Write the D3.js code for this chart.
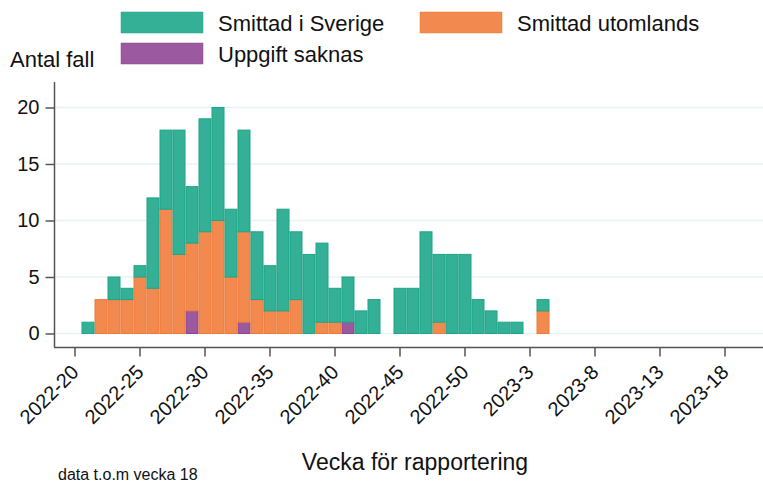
<!DOCTYPE html>
<html>
<head>
<meta charset="utf-8">
<script src="https://cdn.jsdelivr.net/npm/d3@7"></script>
<style>
  body { margin: 0; background: #fff; }
  svg { font-family: "Liberation Sans", Arial, sans-serif; }
</style>
</head>
<body>
<div id="chart"></div>
<script>
// Weeks (rapporteringsvecka)
const weeks = [
  "2022-20","2022-21","2022-22","2022-23","2022-24","2022-25","2022-26","2022-27","2022-28","2022-29",
  "2022-30","2022-31","2022-32","2022-33","2022-34","2022-35","2022-36","2022-37","2022-38","2022-39",
  "2022-40","2022-41","2022-42","2022-43","2022-44","2022-45","2022-46","2022-47","2022-48","2022-49",
  "2022-50","2022-51","2022-52","2023-1","2023-2","2023-3","2023-4","2023-5","2023-6","2023-7",
  "2023-8","2023-9","2023-10","2023-11","2023-12","2023-13","2023-14","2023-15","2023-16","2023-17",
  "2023-18"
]
const sverige = [
  0,1,0,2,1,1,8,7,11,5,
  10,10,6,9,6,4,9,6,7,7,
  3,4,2,3,0,4,4,9,6,7,
  7,3,2,1,1,0,1,0,0,0,
  0,0,0,0,0,0,0,0,0,0,
  0
]
const utomlands = [
  0,0,3,3,3,5,4,11,7,6,
  9,10,5,8,3,2,2,3,0,1,
  1,0,0,0,0,0,0,0,1,0,
  0,0,0,0,0,0,2,0,0,0,
  0,0,0,0,0,0,0,0,0,0,
  0
]
const saknas = [
  0,0,0,0,0,0,0,0,0,2,
  0,0,0,1,0,0,0,0,0,0,
  0,1,0,0,0,0,0,0,0,0,
  0,0,0,0,0,0,0,0,0,0,
  0,0,0,0,0,0,0,0,0,0,
  0
]
const tickWeeks = ["2022-20","2022-25","2022-30","2022-35","2022-40","2022-45","2022-50","2023-3","2023-8","2023-13","2023-18"]
const yTicks = [0, 5, 10, 15, 20]

const series = [
  {key: "saknas", name: "Uppgift saknas", fill: "#9b59a0", stroke: "#8a4790"},
  {key: "utomlands", name: "Smittad utomlands", fill: "#f28a50", stroke: "#ee7a3b"},
  {key: "sverige", name: "Smittad i Sverige", fill: "#33b096", stroke: "#1fa486"}
]

const width = 763
const height = 484
const font = "Liberation Sans, Arial, sans-serif"

const rows = weeks.map((w, i) => ({week: w, saknas: saknas[i], utomlands: utomlands[i], sverige: sverige[i]}))
const stacked = d3.stack().keys(series.map(s => s.key))(rows)

const x = d3.scaleBand()
  .domain(weeks)
  .range([68.5, 68.5 + 13 * weeks.length])
  .padding(0)

const y = d3.scaleLinear()
  .domain([0, 20])
  .range([333.5, 107.5])

const svg = d3.select("#chart").append("svg")
  .attr("width", width)
  .attr("height", height)

// Grid lines
svg.append("g")
  .selectAll("line")
  .data(yTicks)
  .join("line")
    .attr("x1", 55)
    .attr("x2", width)
    .attr("y1", d => y(d))
    .attr("y2", d => y(d))
    .attr("stroke", "#eaf1f4")
    .attr("stroke-width", 1.5)

// Bars
svg.append("g")
  .selectAll("g")
  .data(stacked)
  .join("g")
    .attr("fill", (d, i) => series[i].fill)
    .attr("stroke", (d, i) => series[i].stroke)
  .selectAll("rect")
  .data(d => d.filter(p => p[1] > p[0]))
  .join("rect")
    .attr("x", d => x(d.data.week) + 0.5)
    .attr("width", x.bandwidth() - 1)
    .attr("y", d => y(d[1]))
    .attr("height", d => y(d[0]) - y(d[1]))
    .attr("stroke-width", 1)

// Y axis
const yAxis = svg.append("g")
  .attr("transform", "translate(54.5,0)")
  .call(d3.axisLeft(y).tickValues(yTicks).tickSize(9).tickPadding(6))
yAxis.select(".domain").attr("d", "M0,82V347").attr("stroke", "#555").attr("stroke-width", 1.5)
yAxis.selectAll(".tick line").attr("stroke", "#555").attr("stroke-width", 1.5)
yAxis.selectAll("text").attr("font-size", 20).attr("fill", "#111").attr("font-family", font)

// X axis
const xAxis = svg.append("g")
  .attr("transform", "translate(0,347.5)")
  .call(d3.axisBottom(x).tickValues(tickWeeks).tickSize(9))
xAxis.select(".domain").attr("d", "M54,0H" + width).attr("stroke", "#555").attr("stroke-width", 1.5)
xAxis.selectAll(".tick line").attr("stroke", "#555").attr("stroke-width", 1.5)
xAxis.selectAll("text")
  .attr("font-size", 20)
  .attr("fill", "#111")
  .attr("font-family", font)
  .attr("text-anchor", "end")
  .attr("x", 0)
  .attr("y", 0)
  .attr("dy", "0.35em")
  .attr("transform", "translate(0,21) rotate(-45)")

// Titles
svg.append("text")
  .attr("x", 10)
  .attr("y", 67)
  .attr("font-size", 22)
  .attr("fill", "#111")
  .text("Antal fall")

svg.append("text")
  .attr("x", 415)
  .attr("y", 470)
  .attr("text-anchor", "middle")
  .attr("font-size", 23)
  .attr("fill", "#111")
  .text("Vecka för rapportering")

svg.append("text")
  .attr("x", 58)
  .attr("y", 480)
  .attr("font-size", 16)
  .attr("fill", "#111")
  .text("data t.o.m vecka 18")

// Legend
const legendItems = [
  {s: series[2], x: 121, y: 12},
  {s: series[1], x: 420, y: 12},
  {s: series[0], x: 121, y: 43}
]
const legend = svg.append("g")
  .selectAll("g")
  .data(legendItems)
  .join("g")
    .attr("transform", d => `translate(${d.x},${d.y})`)
legend.append("rect")
  .attr("width", 82)
  .attr("height", 21)
  .attr("fill", d => d.s.fill)
  .attr("stroke", d => d.s.stroke)
  .attr("stroke-width", 0.5)
legend.append("text")
  .attr("x", 97)
  .attr("y", 18.5)
  .attr("font-size", 22)
  .attr("fill", "#111")
  .text(d => d.s.name)
</script>
</body>
</html>
